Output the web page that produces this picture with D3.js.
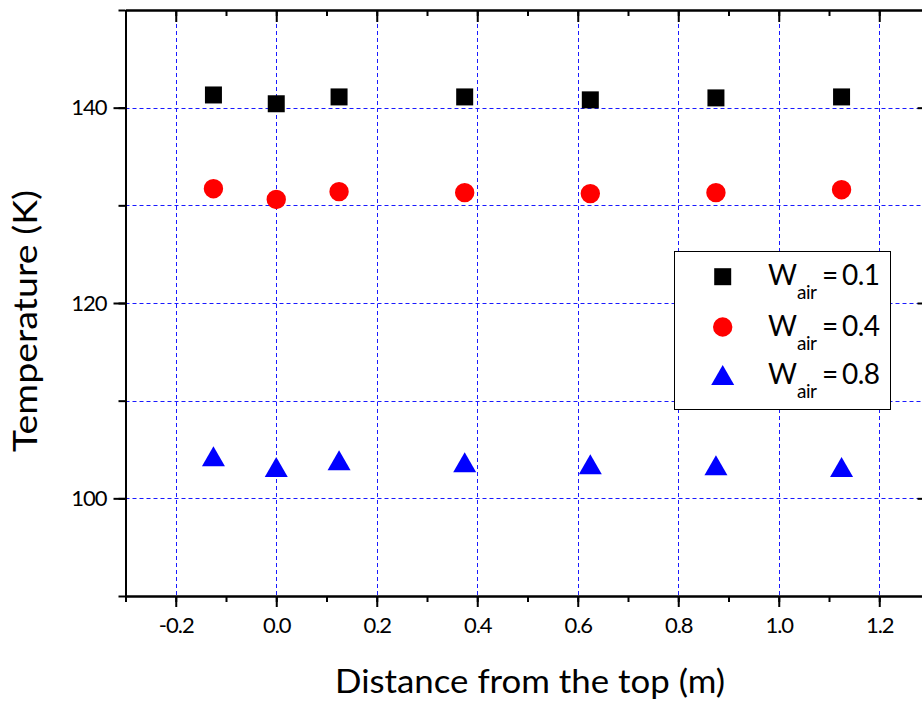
<!DOCTYPE html>
<html>
<head>
<meta charset="utf-8">
<script src="https://cdn.jsdelivr.net/npm/d3@7"></script>
<style>
  html, body { margin: 0; padding: 0; background: #fff; }
  svg { display: block; font-family: Lato, "Open Sans", sans-serif; }
</style>
</head>
<body>
<svg id="chart" width="922" height="708"></svg>
<script>
// Measured wall temperature at several heights for three air mass fractions
const distance = [-0.125, 0, 0.125, 0.375, 0.625, 0.875, 1.125];
const tempW01 = [141.3, 140.4, 141.1, 141.1, 140.8, 141.0, 141.1];
const tempW04 = [131.7, 130.6, 131.4, 131.3, 131.2, 131.3, 131.6];
const tempW08 = [104.3, 103.2, 103.9, 103.7, 103.5, 103.4, 103.2];
const seriesLabels = ["0.1", "0.4", "0.8"];

const xMajorTicks = [-0.2, 0, 0.2, 0.4, 0.6, 0.8, 1.0, 1.2];
const xMinorTicks = [-0.3, -0.2, -0.1, 0, 0.1, 0.2, 0.3, 0.4, 0.5, 0.6, 0.7, 0.8, 0.9, 1.0, 1.1, 1.2, 1.3];
const yMajorTicks = [100, 120, 140];
const yMinorTicks = [90, 100, 110, 120, 130, 140, 150];
const yGridTicks = [100, 110, 120, 130, 140];

(function () {
const svg = d3.select("#chart");
const plotL = 125.5, plotR = 929.5, plotT = 10, plotB = 596;

const x = d3.scaleLinear().domain([-0.3, 1.3]).range([plotL, plotR]);
const y = d3.scaleLinear().domain([90, 150]).range([plotB, plotT]);

// grid
const grid = svg.append("g")
  .attr("stroke", "#1a1aff").attr("stroke-width", 1).attr("stroke-dasharray", "4,3")
  .attr("fill", "none");
grid.selectAll("line.v").data(xMajorTicks).join("line").attr("class", "v")
  .attr("x1", d => Math.round(x(d)) + 0.5).attr("x2", d => Math.round(x(d)) + 0.5)
  .attr("y1", plotT).attr("y2", plotB);
grid.selectAll("line.h").data(yGridTicks).join("line").attr("class", "h")
  .attr("y1", d => Math.round(y(d)) + 0.5).attr("y2", d => Math.round(y(d)) + 0.5)
  .attr("x1", plotL).attr("x2", plotR);

// axes
function styleAxis(g) {
  g.select(".domain").attr("stroke", "#000").attr("stroke-width", 2);
  g.selectAll(".tick line").attr("stroke", "#000").attr("stroke-width", 2);
  g.selectAll(".tick text").attr("fill", "#000").attr("font-size", 22)
    .attr("letter-spacing", "-1px").attr("font-family", "Lato, sans-serif");
}
const fmtX = d => d.toFixed(1);

svg.append("g").attr("transform", `translate(0,${plotB})`)
  .call(d3.axisBottom(x).tickValues(xMinorTicks).tickSize(6).tickSizeOuter(0).tickFormat(""))
  .call(styleAxis);
svg.append("g").attr("transform", `translate(0,${plotB})`)
  .call(d3.axisBottom(x).tickValues(xMajorTicks).tickSize(11).tickSizeOuter(0).tickPadding(10).tickFormat(fmtX))
  .call(styleAxis);

svg.append("g").attr("transform", `translate(0,${plotT})`)
  .call(d3.axisTop(x).tickValues(xMinorTicks).tickSize(-6).tickSizeOuter(0).tickFormat(""))
  .call(styleAxis);
svg.append("g").attr("transform", `translate(0,${plotT})`)
  .call(d3.axisTop(x).tickValues(xMajorTicks).tickSize(-12).tickSizeOuter(0).tickFormat(""))
  .call(styleAxis);

svg.append("g").attr("transform", `translate(${plotL},0)`)
  .call(d3.axisLeft(y).tickValues(yMinorTicks).tickSize(7).tickSizeOuter(0).tickFormat(""))
  .call(styleAxis);
svg.append("g").attr("transform", `translate(${plotL},0)`)
  .call(d3.axisLeft(y).tickValues(yMajorTicks).tickSize(12).tickSizeOuter(0).tickPadding(7).tickFormat(d3.format("d")))
  .call(styleAxis);

svg.append("g").attr("transform", `translate(${plotR},0)`)
  .call(d3.axisRight(y).tickValues(yMinorTicks).tickSize(-7).tickSizeOuter(0).tickFormat(""))
  .call(styleAxis);
svg.append("g").attr("transform", `translate(${plotR},0)`)
  .call(d3.axisRight(y).tickValues(yMajorTicks).tickSize(-12).tickSizeOuter(0).tickFormat(""))
  .call(styleAxis);

// marker shapes
const squareSym = d3.symbol().type(d3.symbolSquare).size(17 * 17);
const circleSym = d3.symbol().type(d3.symbolCircle).size(Math.PI * 9.7 * 9.7);
const triangleSym = d3.symbol().type({
  draw(ctx) {
    const w = 23, h = 20;
    ctx.moveTo(0, -h / 2);
    ctx.lineTo(w / 2, h / 2);
    ctx.lineTo(-w / 2, h / 2);
    ctx.closePath();
  }
});

const series = [
  { values: tempW01, sym: squareSym, color: "#000000", label: seriesLabels[0] },
  { values: tempW04, sym: circleSym, color: "#ff0000", label: seriesLabels[1] },
  { values: tempW08, sym: triangleSym, color: "#0000ff", label: seriesLabels[2] }
];

series.forEach(s => {
  svg.append("g").selectAll("path")
    .data(distance.map((d, i) => [d, s.values[i]]))
    .join("path")
    .attr("d", s.sym())
    .attr("transform", d => `translate(${x(d[0])},${y(d[1])})`)
    .attr("fill", s.color);
});

// legend
const legend = svg.append("g");
legend.append("rect").attr("x", 674.5).attr("y", 251.5).attr("width", 216).attr("height", 158)
  .attr("fill", "#fff").attr("stroke", "#000").attr("stroke-width", 1);
const rowY = [276.7, 327, 375];
series.forEach((s, i) => {
  const cy = rowY[i];
  legend.append("path").attr("d", s.sym()).attr("fill", s.color)
    .attr("transform", `translate(722.7,${cy})`);
  legend.append("text").attr("x", 768).attr("y", cy + 8.5).attr("font-size", 28).text("W");
  legend.append("text").attr("x", 797).attr("y", cy + 22.5).attr("font-size", 19).attr("letter-spacing", "-0.5px").text("air");
  legend.append("text").attr("x", 830).attr("y", cy + 8.5).attr("font-size", 28).attr("text-anchor", "middle").text("=");
  legend.append("text").attr("x", 842).attr("y", cy + 8.5).attr("font-size", 28).attr("letter-spacing", "-0.5px").text(s.label);
});

// axis titles
svg.append("text")
  .attr("transform", "translate(37,321) rotate(-90)")
  .attr("text-anchor", "middle").attr("font-size", 33)
  .attr("textLength", 262).attr("lengthAdjust", "spacingAndGlyphs")
  .text("Temperature (K)");
svg.append("text")
  .attr("x", 530).attr("y", 693)
  .attr("text-anchor", "middle").attr("font-size", 33)
  .attr("textLength", 390).attr("lengthAdjust", "spacingAndGlyphs")
  .text("Distance from the top (m)");
})();
</script>
</body>
</html>
